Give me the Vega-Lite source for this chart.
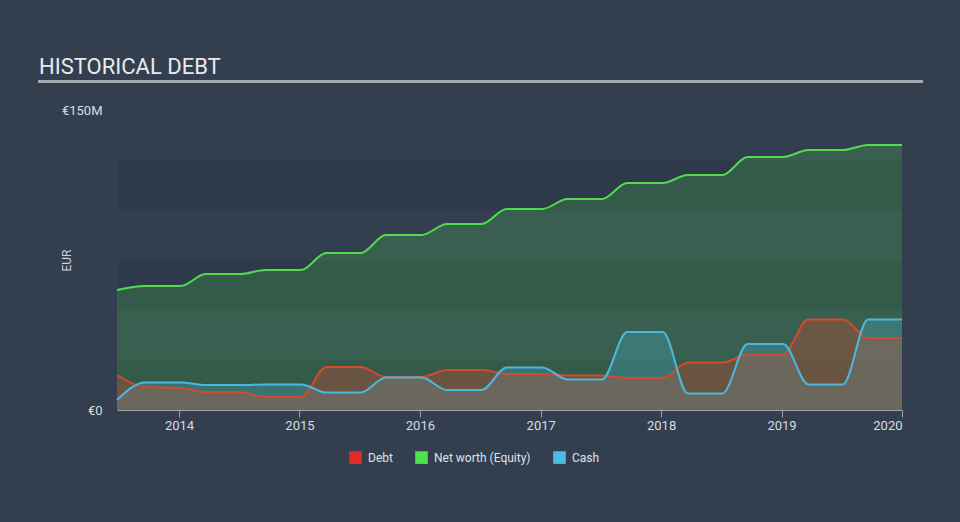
{
  "$schema": "https://vega.github.io/schema/vega-lite/v6.json",
  "width": 785,
  "height": 300,
  "autosize": {"type": "none"},
  "padding": {"left": 117, "top": 110, "right": 58, "bottom": 112},
  "background": "#333f4f",
  "config": {"view": {"stroke": null}, "font": "Roboto"},
  "title": {"text": "HISTORICAL DEBT", "anchor": "start", "frame": "group", "dx": -78, "dy": 18, "offset": 20, "fontSize": 22, "font": "Roboto", "fontWeight": "normal", "color": "#e8eaec"},
  "data": {"values": [
    {"d":"2013-06-27","s":"Net worth (Equity)","v":60},
    {"d":"2013-09-20","s":"Net worth (Equity)","v":62},
    {"d":"2014-01-06","s":"Net worth (Equity)","v":62},
    {"d":"2014-03-23","s":"Net worth (Equity)","v":68},
    {"d":"2014-07-06","s":"Net worth (Equity)","v":68},
    {"d":"2014-09-20","s":"Net worth (Equity)","v":70},
    {"d":"2015-01-06","s":"Net worth (Equity)","v":70},
    {"d":"2015-03-23","s":"Net worth (Equity)","v":78.5},
    {"d":"2015-07-06","s":"Net worth (Equity)","v":78.5},
    {"d":"2015-09-20","s":"Net worth (Equity)","v":87.5},
    {"d":"2016-01-06","s":"Net worth (Equity)","v":87.5},
    {"d":"2016-03-23","s":"Net worth (Equity)","v":93},
    {"d":"2016-07-06","s":"Net worth (Equity)","v":93},
    {"d":"2016-09-20","s":"Net worth (Equity)","v":100.5},
    {"d":"2017-01-06","s":"Net worth (Equity)","v":100.5},
    {"d":"2017-03-23","s":"Net worth (Equity)","v":105.5},
    {"d":"2017-07-06","s":"Net worth (Equity)","v":105.5},
    {"d":"2017-09-20","s":"Net worth (Equity)","v":113.5},
    {"d":"2018-01-06","s":"Net worth (Equity)","v":113.5},
    {"d":"2018-03-23","s":"Net worth (Equity)","v":117.5},
    {"d":"2018-07-06","s":"Net worth (Equity)","v":117.5},
    {"d":"2018-09-20","s":"Net worth (Equity)","v":126.5},
    {"d":"2019-01-06","s":"Net worth (Equity)","v":126.5},
    {"d":"2019-03-23","s":"Net worth (Equity)","v":130},
    {"d":"2019-07-06","s":"Net worth (Equity)","v":130},
    {"d":"2019-09-20","s":"Net worth (Equity)","v":132.5},
    {"d":"2020-01-01","s":"Net worth (Equity)","v":132.5},
    {"d":"2013-06-27","s":"Debt","v":17.5},
    {"d":"2013-09-20","s":"Debt","v":11.5},
    {"d":"2014-01-06","s":"Debt","v":11},
    {"d":"2014-03-23","s":"Debt","v":9},
    {"d":"2014-07-06","s":"Debt","v":9},
    {"d":"2014-09-20","s":"Debt","v":6.5},
    {"d":"2015-01-06","s":"Debt","v":6.5},
    {"d":"2015-03-23","s":"Debt","v":21.5},
    {"d":"2015-07-06","s":"Debt","v":21.5},
    {"d":"2015-09-20","s":"Debt","v":16.5},
    {"d":"2016-01-06","s":"Debt","v":16.5},
    {"d":"2016-03-23","s":"Debt","v":20},
    {"d":"2016-07-06","s":"Debt","v":20},
    {"d":"2016-09-20","s":"Debt","v":18},
    {"d":"2017-01-06","s":"Debt","v":18},
    {"d":"2017-03-23","s":"Debt","v":17.3},
    {"d":"2017-07-06","s":"Debt","v":17.3},
    {"d":"2017-09-20","s":"Debt","v":16},
    {"d":"2018-01-06","s":"Debt","v":16},
    {"d":"2018-03-23","s":"Debt","v":23.7},
    {"d":"2018-07-06","s":"Debt","v":23.7},
    {"d":"2018-09-20","s":"Debt","v":27.8},
    {"d":"2019-01-06","s":"Debt","v":27.8},
    {"d":"2019-03-23","s":"Debt","v":45.3},
    {"d":"2019-07-06","s":"Debt","v":45.3},
    {"d":"2019-09-20","s":"Debt","v":36},
    {"d":"2020-01-01","s":"Debt","v":36},
    {"d":"2013-06-27","s":"Cash","v":5},
    {"d":"2013-09-20","s":"Cash","v":13.8},
    {"d":"2014-01-06","s":"Cash","v":13.8},
    {"d":"2014-03-23","s":"Cash","v":12.5},
    {"d":"2014-07-06","s":"Cash","v":12.5},
    {"d":"2014-09-20","s":"Cash","v":12.8},
    {"d":"2015-01-06","s":"Cash","v":12.8},
    {"d":"2015-03-23","s":"Cash","v":8.7},
    {"d":"2015-07-06","s":"Cash","v":8.7},
    {"d":"2015-09-20","s":"Cash","v":16.2},
    {"d":"2016-01-06","s":"Cash","v":16.2},
    {"d":"2016-03-23","s":"Cash","v":10},
    {"d":"2016-07-06","s":"Cash","v":10},
    {"d":"2016-09-20","s":"Cash","v":21.3},
    {"d":"2017-01-06","s":"Cash","v":21.3},
    {"d":"2017-03-23","s":"Cash","v":15.3},
    {"d":"2017-07-06","s":"Cash","v":15.3},
    {"d":"2017-09-20","s":"Cash","v":39},
    {"d":"2018-01-06","s":"Cash","v":39},
    {"d":"2018-03-23","s":"Cash","v":8.3},
    {"d":"2018-07-06","s":"Cash","v":8.3},
    {"d":"2018-09-20","s":"Cash","v":33},
    {"d":"2019-01-06","s":"Cash","v":33},
    {"d":"2019-03-23","s":"Cash","v":12.8},
    {"d":"2019-07-06","s":"Cash","v":12.8},
    {"d":"2019-09-20","s":"Cash","v":45.3},
    {"d":"2020-01-01","s":"Cash","v":45.3}
  ]},
  "encoding": {
    "x": {
      "field": "d", "type": "temporal",
      "scale": {"type": "utc", "domain": [{"year": 2013, "month": 6, "date": 27, "utc": true}, {"year": 2020, "month": 1, "date": 1, "utc": true}]},
      "axis": {
        "title": null, "grid": false, "format": "%Y", "formatType": "utc",
        "values": [
          {"year": 2014, "month": 1, "date": 1, "utc": true},
          {"year": 2015, "month": 1, "date": 1, "utc": true},
          {"year": 2016, "month": 1, "date": 1, "utc": true},
          {"year": 2017, "month": 1, "date": 1, "utc": true},
          {"year": 2018, "month": 1, "date": 1, "utc": true},
          {"year": 2019, "month": 1, "date": 1, "utc": true},
          {"year": 2020, "month": 1, "date": 1, "utc": true}
        ],
        "domainColor": "#9aa3ad", "tickColor": "#9aa3ad", "tickSize": 7, "labelPadding": 2,
        "labelColor": "#d8dce0", "labelFontSize": 13, "labelFlush": true
      }
    },
    "y": {
      "field": "v", "type": "quantitative", "stack": null,
      "scale": {"domain": [0, 150]},
      "axis": {
        "title": "EUR", "titleColor": "#d0d4d8", "titleFontSize": 12, "titleFontWeight": "normal",
        "titleX": -51, "titleY": 150, "titleBaseline": "middle", "titleAlign": "center",
        "values": [0, 12.5, 62.5, 112.5, 150],
        "labelExpr": "datum.value == 0 ? '€0' : datum.value == 150 ? '€150M' : ''",
        "labelColor": "#d8dce0", "labelFontSize": 13, "labelPadding": 15,
        "ticks": false, "domain": false,
        "grid": true, "gridColor": "#2e3949",
        "gridWidth": {"condition": {"test": "datum.value == 0 || datum.value == 150", "value": 0}, "value": 50},
        "gridOpacity": {"condition": {"test": "datum.value == 0 || datum.value == 150", "value": 0}, "value": 1}
      }
    }
  },
  "layer": [
    {"transform": [{"filter": {"field": "s", "equal": "Net worth (Equity)"}}],
     "mark": {"type": "area", "interpolate": "monotone", "fill": "#4fe04f", "fillOpacity": 0.2}},
    {"transform": [{"filter": {"field": "s", "equal": "Cash"}}],
     "mark": {"type": "area", "interpolate": "monotone", "fill": "#4bbde0", "fillOpacity": 0.27}},
    {"transform": [{"filter": {"field": "s", "equal": "Debt"}}],
     "mark": {"type": "area", "interpolate": "monotone", "fill": "#e0482a", "fillOpacity": 0.3}},
    {"transform": [{"filter": {"field": "s", "equal": "Net worth (Equity)"}}],
     "mark": {"type": "line", "interpolate": "monotone", "stroke": "#4ede4e", "strokeWidth": 2}},
    {"transform": [{"filter": {"field": "s", "equal": "Debt"}}],
     "mark": {"type": "line", "interpolate": "monotone", "stroke": "#d44a2c", "strokeWidth": 2}},
    {"transform": [{"filter": {"field": "s", "equal": "Cash"}}],
     "mark": {"type": "line", "interpolate": "monotone", "stroke": "#4cb9dc", "strokeWidth": 2}},
    {"mark": {"type": "point", "filled": true, "shape": "square", "opacity": 0},
     "encoding": {
       "color": {
         "field": "s", "type": "nominal",
         "scale": {"domain": ["Debt", "Net worth (Equity)", "Cash"], "range": ["#e32b2b", "#4fe04f", "#4bbde0"]},
         "legend": {
           "title": null, "orient": "none", "legendX": 232, "legendY": 341, "direction": "horizontal",
           "symbolType": "square", "symbolSize": 160, "symbolStrokeWidth": 0, "symbolOpacity": 1,
           "labelColor": "#dfe3e6", "labelFontSize": 12, "labelOffset": 6, "columnPadding": 22, "padding": 0
         }
       }
     }},
    {"mark": {"type": "rule", "clip": false, "color": "#a3a9b0", "strokeWidth": 2},
     "encoding": {
       "x": {"datum": {"year": 2012, "month": 10, "date": 31, "utc": true}, "type": "temporal"},
       "x2": {"datum": {"year": 2020, "month": 3, "date": 3, "utc": true}},
       "y": {"datum": 164.2, "type": "quantitative"}
     }}
  ]
}
